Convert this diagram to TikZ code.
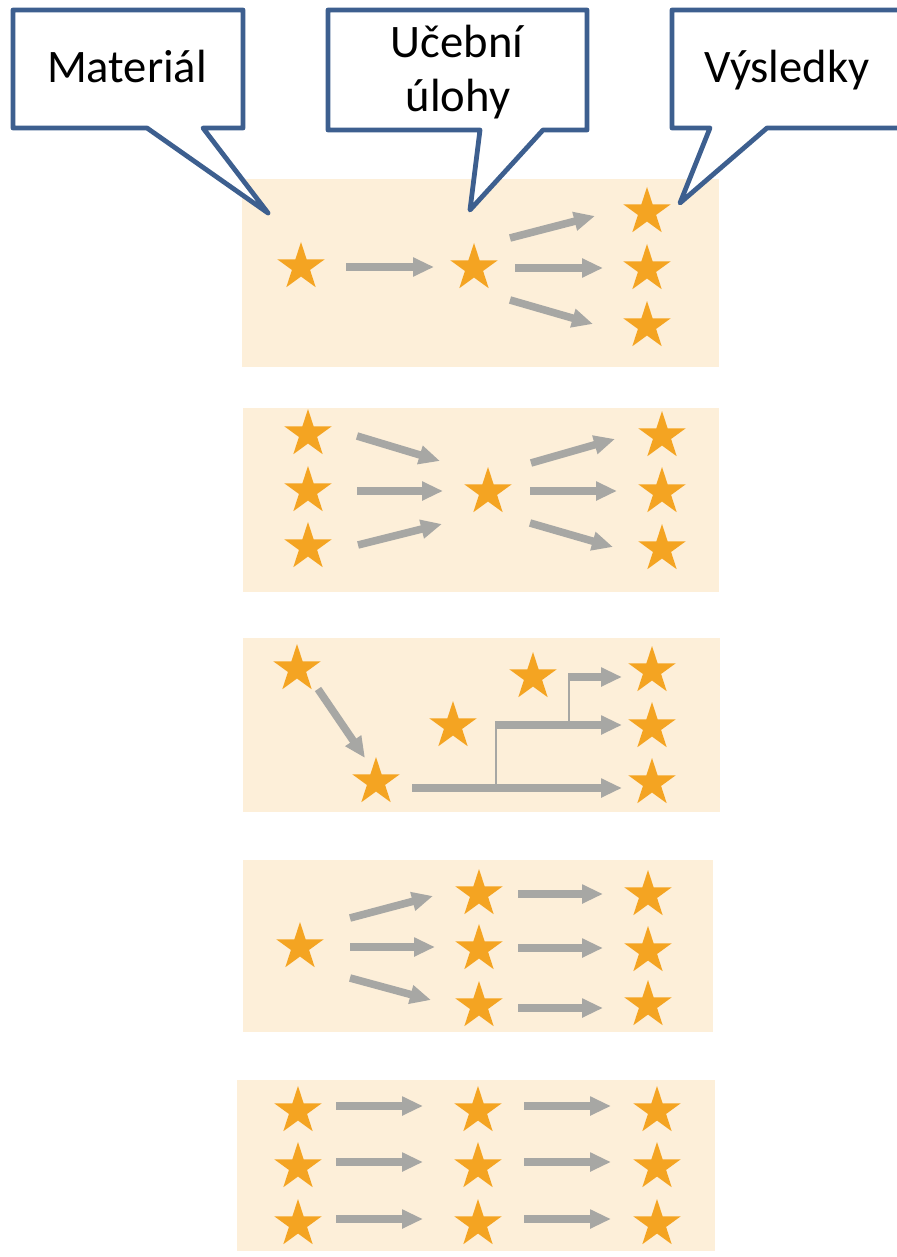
\documentclass[tikz,border=0pt]{standalone}
\usepackage{fontspec}
\setmainfont{Carlito}
\usetikzlibrary{shapes.geometric,arrows.meta}
\definecolor{panelbg}{HTML}{FDEFD9}
\definecolor{starc}{HTML}{F4A422}
\definecolor{arrowc}{HTML}{A7A7A4}
\definecolor{calloutc}{HTML}{3D5F8F}
\begin{document}
\begin{tikzpicture}[x=0.5pt,y=-0.5pt,
  panel/.style={fill=panelbg,draw=none},
  st/.style={star,star points=5,star point ratio=2.618,minimum size=25pt,inner sep=0pt,fill=starc,draw=none},
  arr/.style={draw=arrowc,line width=3.8pt,-{Triangle[length=10.5pt,width=9pt]}},
  branch/.style={draw=arrowc,line width=1.4pt},
  callout/.style={draw=calloutc,fill=white,line width=2.4pt,line join=round},
  lbl/.style={font=\fontsize{23.3}{28}\selectfont,anchor=base,inner sep=0pt,text=black}]
\clip (0,0) rectangle (897,1257);
\fill[white] (0,0) rectangle (897,1257);

% panels
\fill[panel] (242,179) rectangle (719,367);
\fill[panel] (243,408) rectangle (719,592);
\fill[panel] (243,638) rectangle (720,812);
\fill[panel] (243,860) rectangle (713,1032);
\fill[panel] (237,1080) rectangle (715,1251);

% callouts
\draw[callout] (13,10) -- (243,10) -- (243,128) -- (203,128) -- (268,213) -- (147,128) -- (13,128) -- cycle;
\draw[callout] (328,10) -- (587,10) -- (587,130) -- (543,130) -- (470,210) -- (480,130) -- (328,130) -- cycle;
\draw[callout] (672,10) -- (905,10) -- (905,128) -- (767,128) -- (680,203) -- (710,128) -- (672,128) -- cycle;
\node[lbl] (tmat) at (127,83) {Materiál};
\node[lbl] (tuc1) at (457,58) {Učební};
\node[lbl] (tuc2) at (458,112) {úlohy};
\node[lbl] (tvys) at (787,83) {Výsledky};

% panel 1
\node[st] (p1a) at (301,267) {};
\node[st] (p1b) at (474,268) {};
\node[st] (p1c1) at (647,212) {};
\node[st] (p1c2) at (647,269) {};
\node[st] (p1c3) at (647,326) {};
\draw[arr] ([shift={(45,0)}]p1a.center) -- ([shift={(-40,-1)}]p1b.center);
\draw[arr] ([shift={(36,-30)}]p1b.center) -- ([shift={(-52,4)}]p1c1.center);
\draw[arr] ([shift={(41,0)}]p1b.center) -- ([shift={(-44,-1)}]p1c2.center);
\draw[arr] ([shift={(36,32)}]p1b.center) -- ([shift={(-54,-2)}]p1c3.center);

% panel 2
\node[st] (p2a1) at (308,434) {};
\node[st] (p2a2) at (308,491) {};
\node[st] (p2a3) at (308,547) {};
\node[st] (p2b) at (488,492) {};
\node[st] (p2c1) at (662,436) {};
\node[st] (p2c2) at (662,492) {};
\node[st] (p2c3) at (662,549) {};
\draw[arr] ([shift={(49,2)}]p2a1.center) -- ([shift={(-48,-31)}]p2b.center);
\draw[arr] ([shift={(49,0)}]p2a2.center) -- ([shift={(-45,-1)}]p2b.center);
\draw[arr] ([shift={(50,-2)}]p2a3.center) -- ([shift={(-46,32)}]p2b.center);
\draw[arr] ([shift={(43,-29)}]p2b.center) -- ([shift={(-47,3)}]p2c1.center);
\draw[arr] ([shift={(42,-1)}]p2b.center) -- ([shift={(-45,-1)}]p2c2.center);
\draw[arr] ([shift={(42,31)}]p2b.center) -- ([shift={(-49,-2)}]p2c3.center);

% panel 3
\node[st] (p3a) at (297,669) {};
\node[st] (p3b) at (376,782) {};
\node[st] (p3c) at (453,726) {};
\node[st] (p3d) at (533,677) {};
\node[st] (p3r1) at (652,671) {};
\node[st] (p3r2) at (652,727) {};
\node[st] (p3r3) at (652,783) {};
\coordinate (p3j1) at (496,788);
\coordinate (p3k1) at (496,725);
\coordinate (p3j2) at (569,725);
\coordinate (p3k2) at (569,677);
\draw[branch] (p3j1) -- (p3k1);
\draw[branch] (p3j2) -- (p3k2);
\draw[arr] ([shift={(21,20)}]p3a.center) -- ([shift={(-11,-24)}]p3b.center);
\draw[arr] ([shift={(36,6)}]p3b.center) -- ([shift={(-30,5)}]p3r3.center);
\draw[arr] ([shift={(-1,0)}]p3k1) -- ([shift={(-30,-2)}]p3r2.center);
\draw[arr] ([shift={(-1,0)}]p3k2) -- ([shift={(-30,6)}]p3r1.center);

% panel 4
\node[st] (p4l) at (300,947) {};
\node[st] (p4m1) at (479,894) {};
\node[st] (p4m2) at (479,949) {};
\node[st] (p4m3) at (479,1006) {};
\node[st] (p4r1) at (648,895) {};
\node[st] (p4r2) at (648,951) {};
\node[st] (p4r3) at (648,1005) {};
\draw[arr] ([shift={(50,-29)}]p4l.center) -- ([shift={(-46,2)}]p4m1.center);
\draw[arr] ([shift={(50,0)}]p4l.center) -- ([shift={(-44,-2)}]p4m2.center);
\draw[arr] ([shift={(50,31)}]p4l.center) -- ([shift={(-48,-6)}]p4m3.center);
\draw[arr] ([shift={(39,0)}]p4m1.center) -- ([shift={(-45,-1)}]p4r1.center);
\draw[arr] ([shift={(39,-1)}]p4m2.center) -- ([shift={(-45,-3)}]p4r2.center);
\draw[arr] ([shift={(39,2)}]p4m3.center) -- ([shift={(-45,3)}]p4r3.center);

% panel 5
\foreach \r/\y in {1/1111,2/1167,3/1224}{
  \node[st] (p5a\r) at (298,\y) {};
  \node[st] (p5b\r) at (478,\y) {};
  \node[st] (p5c\r) at (657,\y) {};
  \draw[arr] ([shift={(38,-5)}]p5a\r.center) -- ([shift={(-55,-5)}]p5b\r.center);
  \draw[arr] ([shift={(46,-5)}]p5b\r.center) -- ([shift={(-46,-5)}]p5c\r.center);
}
\end{tikzpicture}
\end{document}
